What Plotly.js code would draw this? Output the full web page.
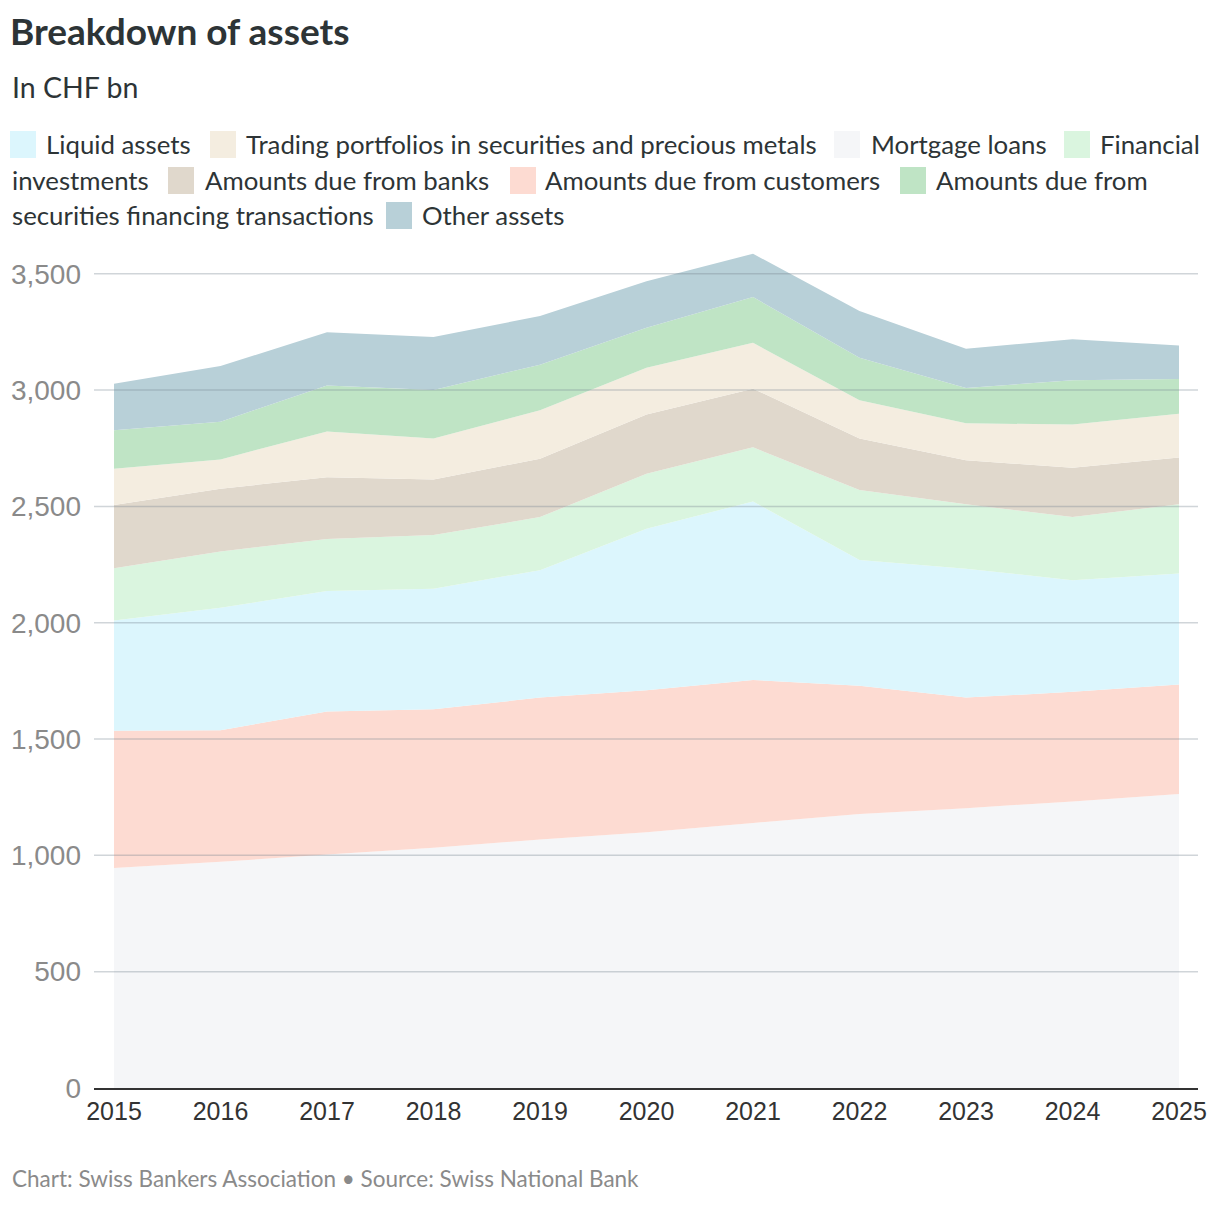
<!DOCTYPE html>
<html>
<head>
<meta charset="utf-8">
<script src="https://cdn.plot.ly/plotly-3.0.1.min.js"></script>
<style>
  html, body { margin: 0; padding: 0; background: #ffffff; }
  #chart { width: 1220px; height: 1206px; }
</style>
</head>
<body>
<div id="chart"></div>
<script>
// ---- Data (CHF bn) ----
const years = [2015, 2016, 2017, 2018, 2019, 2020, 2021, 2022, 2023, 2024, 2025];
const mortgageLoans        = [946, 972, 1004, 1033, 1068, 1099, 1139, 1178, 1203, 1232, 1264];
const dueFromCustomers     = [590, 566, 614, 595, 610, 611, 615, 551, 475, 471, 470];
const liquidAssets         = [474, 526, 518, 518, 548, 694, 767, 540, 554, 480, 477];
const financialInvestments = [224, 242, 224, 231, 228, 236, 233, 301, 277, 271, 298];
const dueFromBanks         = [272, 270, 265, 239, 251, 255, 252, 222, 189, 212, 201];
const tradingPortfolios    = [156, 126, 197, 176, 208, 201, 197, 164, 159, 186, 188];
const securitiesFinancing  = [165, 162, 198, 208, 196, 172, 197, 183, 152, 190, 149];
const otherAssets          = [200, 239, 229, 228, 209, 200, 186, 201, 169, 176, 145];

const yTickVals = [0, 500, 1000, 1500, 2000, 2500, 3000, 3500];

// ---- Layout geometry ----
const FW = 1220, FH = 1206;
const M = { l: 94, r: 22, t: 240, b: 118 };
const PW = FW - M.l - M.r, PH = FH - M.t - M.b;
const pxX = px => (px - M.l) / PW;
const pxY = py => 1 - (py - M.t) / PH;

const colors = {
  liquid: '#dcf6fd',
  trading: '#f4ede0',
  mortgage: '#f5f6f8',
  fin: '#daf5df',
  banks: '#e0d8cc',
  customers: '#fddbd2',
  sft: '#bfe4c5',
  other: '#b8d0d8'
};

function area(name, y, color) {
  return {
    type: 'scatter', x: years, y: y, name: name,
    stackgroup: 'one', mode: 'none', fillcolor: color,
    line: { width: 0 }, hoverinfo: 'x+y+name'
  };
}

const data = [
  area('Mortgage loans', mortgageLoans, colors.mortgage),
  area('Amounts due from customers', dueFromCustomers, colors.customers),
  area('Liquid assets', liquidAssets, colors.liquid),
  area('Financial investments', financialInvestments, colors.fin),
  area('Amounts due from banks', dueFromBanks, colors.banks),
  area('Trading portfolios in securities and precious metals', tradingPortfolios, colors.trading),
  area('Amounts due from securities financing transactions', securitiesFinancing, colors.sft),
  area('Other assets', otherAssets, colors.other)
];

const FONT = 'Lato, "Noto Sans", sans-serif';
const legendFont = { family: FONT, size: 25.8, color: '#2d3436' };

const legendRows = [
  { sw: colors.liquid, sx: 10, tx: 44, y: 144, text: 'Liquid assets' },
  { sw: colors.trading, sx: 210, tx: 244, y: 144, text: 'Trading portfolios in securities and precious metals' },
  { sw: colors.mortgage, sx: 834, tx: 869, y: 144, text: 'Mortgage loans' },
  { sw: colors.fin, sx: 1064, tx: 1098, y: 144, text: 'Financial' },
  { sw: null, sx: 0, tx: 10, y: 180, text: 'investments' },
  { sw: colors.banks, sx: 168, tx: 203, y: 180, text: 'Amounts due from banks' },
  { sw: colors.customers, sx: 510, tx: 543, y: 180, text: 'Amounts due from customers' },
  { sw: colors.sft, sx: 900, tx: 934, y: 180, text: 'Amounts due from' },
  { sw: null, sx: 0, tx: 10, y: 215, text: 'securities financing transactions' },
  { sw: colors.other, sx: 386, tx: 420, y: 215, text: 'Other assets' }
];

const annotations = [];
const shapes = [];

legendRows.forEach(r => {
  annotations.push({
    xref: 'paper', yref: 'paper', x: pxX(r.tx), y: pxY(r.y),
    xanchor: 'left', yanchor: 'middle', showarrow: false,
    text: r.text, font: legendFont
  });
  if (r.sw) {
    shapes.push({
      type: 'rect', xref: 'paper', yref: 'paper',
      x0: pxX(r.sx), x1: pxX(r.sx + 26),
      y0: pxY(r.y - 13), y1: pxY(r.y + 14),
      fillcolor: r.sw, line: { width: 0 }
    });
  }
});

annotations.push({
  xref: 'paper', yref: 'paper', x: pxX(10), y: pxY(87),
  xanchor: 'left', yanchor: 'middle', showarrow: false,
  text: 'In CHF bn',
  font: { family: FONT, size: 28.5, color: '#2d3436' }
});
annotations.push({
  xref: 'paper', yref: 'paper', x: pxX(10), y: pxY(1178),
  xanchor: 'left', yanchor: 'middle', showarrow: false,
  text: 'Chart: Swiss Bankers Association • Source: Swiss National Bank',
  font: { family: FONT, size: 22.5, color: '#8a8a8a' }
});

yTickVals.filter(v => v > 0).forEach(v => {
  shapes.push({
    type: 'line', xref: 'paper', yref: 'y', x0: 0, x1: 1, y0: v, y1: v,
    layer: 'above', line: { color: 'rgba(120,135,145,0.35)', width: 1.5 }
  });
});

const layout = {
  width: FW, height: FH,
  margin: M,
  paper_bgcolor: '#ffffff', plot_bgcolor: '#ffffff',
  showlegend: false,
  title: {
    text: '<b>Breakdown of assets</b>',
    xref: 'container', yref: 'container',
    x: 10 / FW, xanchor: 'left',
    y: 1 - 32 / FH, yanchor: 'middle',
    font: { family: FONT, size: 37, color: '#2d3436' }
  },
  xaxis: {
    range: [2015 - 20 / 106.5, 2025 + 19 / 106.5],
    tickvals: years,
    ticktext: years.map(String),
    showgrid: false, zeroline: false,
    showline: true, linecolor: '#333333', linewidth: 2,
    ticks: '', layer: 'above traces',
    tickfont: { family: '"Liberation Sans", Arial, sans-serif', size: 25, color: '#333333' },
    fixedrange: true
  },
  yaxis: {
    range: [0, 3645],
    tickvals: yTickVals,
    tickformat: ',d',
    showgrid: false, zeroline: false, showline: false,
    ticks: '', ticklabelstandoff: 12,
    tickfont: { family: '"Liberation Sans", Arial, sans-serif', size: 28, color: '#8a8a8a' },
    fixedrange: true
  },
  annotations: annotations,
  shapes: shapes
};

Plotly.newPlot('chart', data, layout, { displayModeBar: false, staticPlot: true });
</script>
</body>
</html>
